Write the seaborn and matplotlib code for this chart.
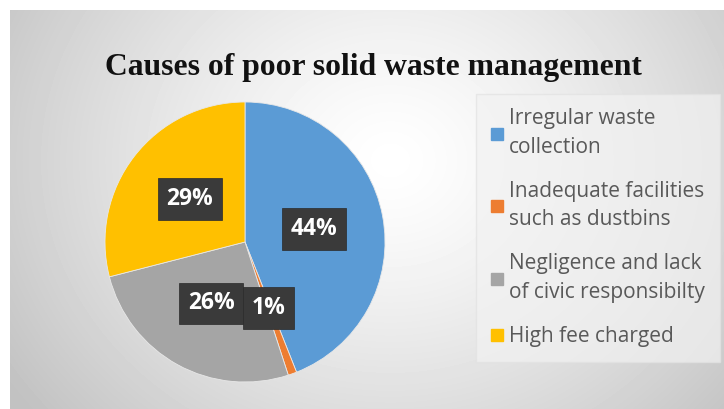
import numpy as np
import matplotlib
matplotlib.use("Agg")
import matplotlib.pyplot as plt
from matplotlib.lines import Line2D
import seaborn as sns

# Survey results: causes of poor solid waste management (percent of respondents)
causes = [
    "Irregular waste\ncollection",
    "Inadequate facilities\nsuch as dustbins",
    "Negligence and lack\nof civic responsibilty",
    "High fee charged",
]
shares = [44, 1, 26, 29]
colors = ["#5B9BD5", "#ED7D31", "#A5A5A5", "#FFC000"]
title = "Causes of poor solid waste management"

sns.set_theme(style="white")
plt.rcParams["font.family"] = ["Open Sans", "DejaVu Sans"]

W, H = 724, 409
fig = plt.figure(figsize=(W / 100, H / 100), dpi=100, facecolor="white")

# Panel with a soft radial gray gradient
bg = fig.add_axes([10 / W, 0, (W - 10) / W, (H - 10) / H])
yy, xx = np.mgrid[0:399, 0:714]
d = np.hypot(xx - 380, (yy - 150) * 1.15)
shade = np.clip(1.0 - 0.22 * (d / 430) ** 1.3, 0.76, 1.0)
bg.imshow(shade, cmap="gray", vmin=0, vmax=1, aspect="auto",
          extent=[0, 714, 399, 0], interpolation="bilinear")
bg.set_axis_off()

# Pie centred at (245, 242) px with a 140 px radius
cx, cy, r = 245, 242, 140
ax = fig.add_axes([(cx - r) / W, (H - cy - r) / H, 2 * r / W, 2 * r / H])
wedges, _, autotexts = ax.pie(
    shares, colors=colors, startangle=90, counterclock=False,
    autopct="%.0f%%", pctdistance=0.5,
    wedgeprops=dict(linewidth=0.6, edgecolor="#e8e8e8"),
)
ax.set_xlim(-1, 1)
ax.set_ylim(-1, 1)
ax.set_axis_off()
for t in autotexts:
    t.set_color("white")
    t.set_fontsize(16.5)
    t.set_fontweight("bold")
    t.set_bbox(dict(boxstyle="square,pad=0.38", facecolor="#3a3a3a",
                    edgecolor="#2a2a2a", linewidth=0.5))

fig.text(373 / W, 1 - 67 / H, title, ha="center", va="center",
         family="Liberation Serif", fontweight="bold", fontsize=22.8,
         color="#111111")

handles = [Line2D([0], [0], marker="s", linestyle="none", markersize=8.5,
                  markerfacecolor=c, markeredgecolor=c) for c in colors]
leg = fig.legend(handles, causes, loc="upper left",
                 bbox_to_anchor=(482 / W, 1 - 100 / H),
                 frameon=True, fontsize=15, handlelength=0.6,
                 handletextpad=0.3, labelspacing=1.12, borderpad=0.4,
                 borderaxespad=0)
leg.get_frame().set_facecolor("#f2f2f2")
leg.get_frame().set_edgecolor("#e2e2e2")
leg.get_frame().set_alpha(0.7)
leg.get_frame().set_boxstyle("square")
for t in leg.get_texts():
    t.set_color("#595959")
    t.set_linespacing(1.45)

fig.savefig("out.png", dpi=100, facecolor="white")
